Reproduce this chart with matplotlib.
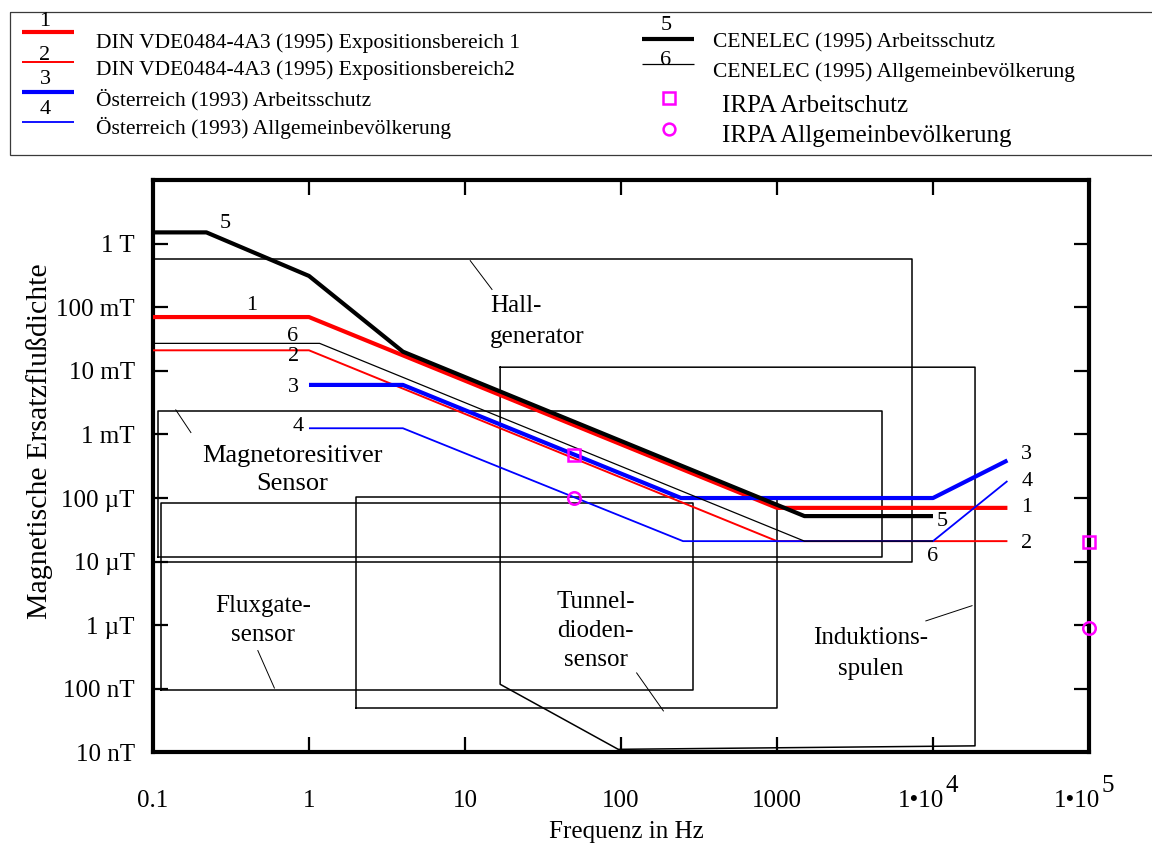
import numpy as np
import matplotlib
matplotlib.use('Agg')
import matplotlib.pyplot as plt
from matplotlib.patches import Rectangle

plt.rcParams['font.family'] = ['Liberation Serif', 'DejaVu Serif']

# Grenzwertkurven, f in Hz, B in T
f_din1 = [0.1, 1, 1000, 30000]
b_din1 = [0.07, 0.07, 7e-5, 7e-5]
f_din2 = [0.1, 1, 1000, 30000]
b_din2 = [0.021, 0.021, 2.1e-5, 2.1e-5]
f_at_arb = [1, 4, 243, 10000, 30000]
b_at_arb = [6e-3, 6e-3, 1e-4, 1e-4, 3.9e-4]
f_at_allg = [1, 4, 250, 10000, 30000]
b_at_allg = [1.25e-3, 1.25e-3, 2.1e-5, 2.1e-5, 1.85e-4]
f_cen_arb = [0.1, 0.22, 1, 4, 1500, 10000]
b_cen_arb = [1.5, 1.5, 0.31, 0.02, 5.2e-5, 5.2e-5]
f_cen_allg = [0.1, 1.17, 1500, 10000]
b_cen_allg = [0.027, 0.027, 2.1e-5, 2.1e-5]

# IRPA Einzelwerte
f_irpa = [50, 1e5]
b_irpa_arb = [4.8e-4, 2e-5]
b_irpa_allg = [1e-4, 9e-7]

# Messbereiche der Sensoren (f von/bis, B von/bis)
sensor_names = ['Hall-\ngenerator', 'Magnetoresitiver\nSensor', 'Fluxgate-\nsensor',
                'Tunnel-\ndioden-\nsensor']
sensor_f = [(0.1, 7300), (0.107, 4700), (0.112, 290), (2, 1000)]
sensor_b = [(1e-5, 0.57), (1.2e-5, 2.3e-3), (9.6e-8, 8.5e-5), (5e-8, 1.03e-4)]
spule_name = 'Induktions-\nspulen'
spule_f = [16.8, 18600, 18600, 96, 16.8, 16.8]
spule_b = [1.14e-2, 1.14e-2, 1.27e-8, 1.12e-8, 1.18e-7, 1.14e-2]

y_ticks = [1e-8, 1e-7, 1e-6, 1e-5, 1e-4, 1e-3, 1e-2, 1e-1, 1]
y_ticklabels = ['10 nT', '100 nT', '1 µT', '10 µT', '100 µT', '1 mT', '10 mT', '100 mT', '1 T']
x_ticks = [0.1, 1, 10, 100, 1000, 1e4, 1e5]
x_ticklabels = ['0.1', '1', '10', '100', '1000', '1•10', '1•10']
x_exponents = ['', '', '', '', '', '4', '5']

curve_nums = ['1', '2', '3', '4', '5', '6']
curve_labels = ['DIN VDE0484-4A3 (1995) Expositionsbereich 1',
                'DIN VDE0484-4A3 (1995) Expositionsbereich2',
                'Österreich (1993) Arbeitsschutz',
                'Österreich (1993) Allgemeinbevölkerung',
                'CENELEC (1995) Arbeitsschutz',
                'CENELEC (1995) Allgemeinbevölkerung']
irpa_labels = ['IRPA Arbeitschutz', 'IRPA Allgemeinbevölkerung']

curves = [(f_din1, b_din1), (f_din2, b_din2), (f_at_arb, b_at_arb),
          (f_at_allg, b_at_allg), (f_cen_arb, b_cen_arb), (f_cen_allg, b_cen_allg)]
colors = ['#ff0000', '#ff0000', '#0000ff', '#0000ff', 'black', 'black']
widths = [3.0, 1.4, 3.0, 1.3, 3.0, 0.9]
magenta = '#ff00ff'

fig = plt.figure(figsize=(11.52, 8.43), dpi=100)
ax = fig.add_axes([0.1328, 0.1074, 0.8125, 0.6791])
ax.set_xscale('log')
ax.set_yscale('log')
ax.set_xlim(0.1, 1e5)
ax.set_ylim(1e-8, 10)

# Sensorbereiche
for (f0, f1), (b0, b1) in zip(sensor_f, sensor_b):
    ax.plot([f0, f1, f1, f0, f0], [b0, b0, b1, b1, b0], color='black', lw=1.1, zorder=2)
ax.plot(spule_f, spule_b, color='black', lw=1.1, zorder=2)

# Grenzwerte
for (f, b), c, w in zip(curves, colors, widths):
    ax.plot(f, b, color=c, lw=w, solid_capstyle='butt', zorder=3)

ax.plot(f_irpa, b_irpa_arb, ls='none', marker='s', ms=8.5, mfc='none', mec=magenta, mew=1.8,
        clip_on=False, zorder=5)
ax.plot(f_irpa, b_irpa_allg, ls='none', marker='o', ms=9, mfc='none', mec=magenta, mew=1.8,
        clip_on=False, zorder=5)

# Kurvennummern
num_left = {'5': (0.29, 2.1), '1': (0.43, 0.105), '6': (0.78, 0.0345), '2': (0.80, 0.0166),
            '3': (0.80, 5.4e-3), '4': (0.85, 1.31e-3)}
num_right = {'3': (40000, 4.76e-4), '4': (40000, 1.81e-4), '1': (40000, 7e-5),
             '2': (40000, 1.9e-5), '5': (11400, 4.26e-5), '6': (10000, 1.19e-5)}
for d in (num_left, num_right):
    for k, (x, y) in d.items():
        ax.text(x, y, k, fontsize=16, ha='center', va='center', zorder=6)

# Beschriftung der Sensoren
ax.text(14.5, 0.06, sensor_names[0], fontsize=18, ha='left', va='center', linespacing=1.5)
ax.text(0.78, 2.77e-4, sensor_names[1], fontsize=19, ha='center', va='center', linespacing=1.35)
ax.text(0.51, 1.19e-6, sensor_names[2], fontsize=18, ha='center', va='center', linespacing=1.4)
ax.text(69, 8.1e-7, sensor_names[3], fontsize=18, ha='center', va='center', linespacing=1.4)
ax.text(4000, 3.6e-7, spule_name, fontsize=18, ha='center', va='center', linespacing=1.5)
leaders = [((10.8, 14.9), (0.54, 0.19)), ((0.14, 0.175), (2.43e-3, 1.07e-3)),
           ((0.47, 0.60), (4.0e-7, 1.03e-7)), ((126, 187), (1.78e-7, 4.5e-8)),
           ((9000, 17800), (1.17e-6, 2.03e-6))]
for xs, ys in leaders:
    ax.plot(xs, ys, color='black', lw=0.7, zorder=2)

for s in ax.spines.values():
    s.set_linewidth(3)
ax.minorticks_off()
ax.set_yticks(y_ticks)
ax.set_yticklabels(y_ticklabels)
ax.set_xticks(x_ticks)
ax.set_xticklabels([l if e == '' else '' for l, e in zip(x_ticklabels, x_exponents)])
ax.tick_params(which='major', direction='in', length=11, width=1.6, top=True, right=True,
               labelsize=18)
ax.tick_params(axis='x', pad=27)
ax.tick_params(axis='y', pad=13)
for t, l, e in zip(x_ticks, x_ticklabels, x_exponents):
    if e:
        ax.annotate(l, xy=(t, 0), xycoords=('data', 'axes fraction'), xytext=(-8.6, -27),
                    textcoords='offset points', ha='center', va='top', fontsize=18)
        ax.annotate(e, xy=(t, 0), xycoords=('data', 'axes fraction'), xytext=(13.7, -24),
                    textcoords='offset points', ha='center', va='center', fontsize=18)

ax.set_xlabel('Frequenz in Hz', fontsize=18)
ax.xaxis.set_label_coords(0.5053, -0.139)
ax.xaxis.label.set_va('center')
ax.set_ylabel('Magnetische Ersatzflußdichte', fontsize=21.5)
ax.yaxis.set_label_coords(-0.1207, 0.544)
ax.yaxis.label.set_va('center')

# Legende oben (Pixelkoordinaten)
lg = fig.add_axes([0, 0, 1, 1])
lg.set_xlim(0, 1152)
lg.set_ylim(843, 0)
lg.axis('off')
lg.add_patch(Rectangle((9.6, 12.3), 1160, 142.7, fill=False, lw=0.9, ec='#3a3a3a'))
left_rows = [(32.3, 21.7, 42.7), (62, 55, 70), (91.7, 79, 100), (121.7, 109, 128)]
right_rows = [(39.3, 25, 42.7), (64.3, 60.5, 71.7)]
for i, (ly, ny, ty) in enumerate(left_rows):
    lg.plot([22, 73.5], [ly, ly], color=colors[i], lw=widths[i], solid_capstyle='butt')
    lg.text(45, ny, curve_nums[i], fontsize=16, ha='center', va='center')
    lg.text(96, ty, curve_labels[i], fontsize=15.5, ha='left', va='center')
for j, (ly, ny, ty) in enumerate(right_rows):
    i = j + 4
    lg.plot([642, 694], [ly, ly], color=colors[i], lw=widths[i], solid_capstyle='butt')
    lg.text(666, ny, curve_nums[i], fontsize=16, ha='center', va='center')
    lg.text(712.7, ty, curve_labels[i], fontsize=15.5, ha='left', va='center')
lg.plot([669], [97.7], ls='none', marker='s', ms=8, mfc='none', mec=magenta, mew=1.8)
lg.plot([669], [129], ls='none', marker='o', ms=8.5, mfc='none', mec=magenta, mew=1.8)
lg.text(721.5, 106, irpa_labels[0], fontsize=18, ha='left', va='center')
lg.text(721.5, 136, irpa_labels[1], fontsize=18, ha='left', va='center')

fig.savefig('out.png', dpi=100)
